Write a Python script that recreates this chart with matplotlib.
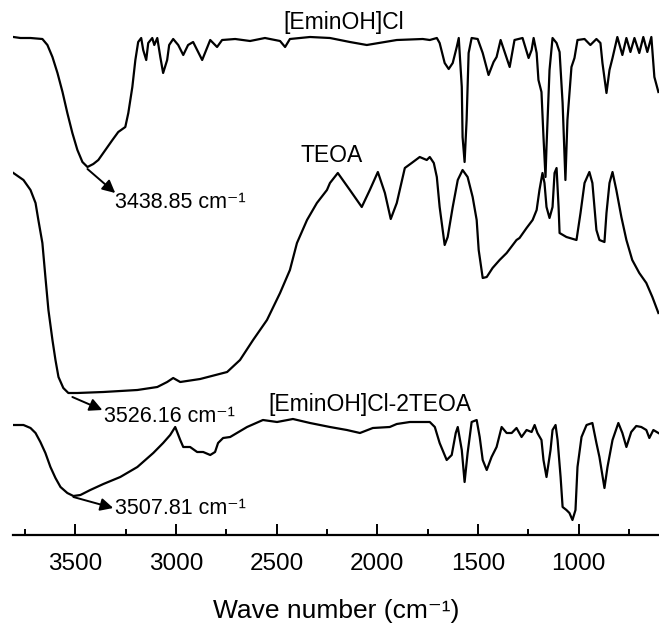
import matplotlib
matplotlib.use("Agg")
import matplotlib.pyplot as plt
from matplotlib.ticker import MultipleLocator

plt.rcParams['font.family'] = ['Liberation Sans', 'DejaVu Sans']

# [EminOH]Cl spectrum (wavenumber, stacked intensity a.u.)
wn_emin = [3808, 3773, 3723, 3664, 3639, 3614, 3589, 3564, 3540, 3515, 3490, 3465,
           3440, 3411, 3386, 3351, 3316, 3287, 3252, 3237, 3217, 3202, 3188, 3173,
           3163, 3148, 3138, 3118, 3108, 3093, 3078, 3064, 3044, 3034, 3014, 2989,
           2964, 2940, 2915, 2870, 2830, 2796, 2771, 2706, 2632, 2558, 2483, 2458,
           2434, 2334, 2235, 2136, 2052, 1903, 1774, 1739, 1704, 1690, 1665, 1645,
           1625, 1605, 1595, 1580, 1576, 1566, 1556, 1546, 1531, 1501, 1476, 1447,
           1422, 1407, 1387, 1367, 1342, 1318, 1278, 1248, 1233, 1223, 1208, 1199,
           1184, 1174, 1164, 1159, 1144, 1129, 1109, 1094, 1079, 1065, 1055, 1035,
           1020, 1005, 970, 941, 911, 891, 881, 861, 846, 831, 807, 782, 762, 742,
           722, 698, 678, 658, 638, 623, 603]
int_emin = [498, 497, 497, 496, 490, 478, 462, 443, 422, 402, 385, 373,
            368, 371, 375, 385, 395, 403, 408, 422, 448, 475, 493, 497,
            485, 475, 492, 497, 490, 497, 478, 462, 475, 490, 496, 490,
            480, 490, 493, 475, 495, 488, 495, 496, 494, 497, 494, 488,
            496, 498, 497, 493, 490, 495, 496, 495, 497, 492, 472, 466,
            472, 488, 497, 448, 398, 373, 415, 482, 497, 496, 482, 460,
            473, 478, 495, 483, 468, 495, 497, 477, 485, 497, 482, 455,
            443, 398, 358, 388, 465, 497, 492, 483, 432, 355, 415, 468,
            477, 495, 496, 490, 496, 492, 472, 442, 465, 477, 498, 480, 497, 483,
            497, 482, 498, 483, 498, 458, 443]

# TEOA spectrum
wn_teoa = [3808, 3758, 3723, 3698, 3684, 3664, 3649, 3634, 3614, 3599, 3584, 3560,
           3535, 3490, 3361, 3192, 3093, 3044, 3014, 2979, 2880, 2746, 2682, 2617,
           2548, 2483, 2434, 2399, 2349, 2300, 2250, 2235, 2196, 2136, 2077, 2037,
           1997, 1962, 1933, 1903, 1863, 1829, 1789, 1754, 1739, 1719, 1704, 1690,
           1665, 1650, 1625, 1600, 1576, 1551, 1526, 1506, 1496, 1476, 1456, 1427,
           1392, 1357, 1308, 1293, 1258, 1228, 1208, 1194, 1179, 1169, 1159, 1144,
           1129, 1119, 1109, 1099, 1094, 1060, 1010, 990, 970, 946, 931, 911,
           896, 871, 861, 846, 831, 812, 787, 762, 733, 698, 663, 633, 603]
int_teoa = [362, 355, 345, 332, 315, 292, 258, 225, 195, 175, 158, 147,
            142, 142, 143, 145, 148, 153, 157, 153, 156, 163, 175, 195,
            215, 242, 265, 292, 315, 332, 345, 352, 362, 345, 328, 345,
            363, 342, 316, 332, 367, 372, 378, 375, 378, 372, 358, 328,
            290, 298, 328, 355, 365, 358, 338, 315, 285, 257, 258, 267,
            275, 282, 295, 297, 307, 315, 325, 345, 362, 352, 328, 317,
            328, 362, 367, 328, 302, 298, 295, 322, 352, 363, 352, 305,
            295, 293, 322, 352, 363, 345, 318, 295, 275, 262, 252, 238, 222]

# [EminOH]Cl-2TEOA spectrum
wn_mix = [3808, 3758, 3723, 3698, 3674, 3649, 3624, 3599, 3574, 3540, 3510, 3475,
          3426, 3361, 3277, 3192, 3113, 3064, 3029, 3004, 2979, 2964, 2930, 2895,
          2865, 2830, 2806, 2791, 2766, 2731, 2647, 2568, 2498, 2419, 2334, 2235,
          2151, 2086, 2022, 1938, 1903, 1838, 1739, 1714, 1690, 1655, 1630, 1610,
          1600, 1580, 1566, 1551, 1531, 1506, 1491, 1476, 1456, 1432, 1407, 1382,
          1357, 1332, 1308, 1283, 1258, 1233, 1218, 1204, 1184, 1174, 1159, 1139,
          1129, 1114, 1104, 1089, 1079, 1060, 1045, 1030, 1015, 1005, 985, 960,
          931, 911, 896, 871, 856, 831, 802, 782, 762, 738, 713, 688, 663, 648,
          628, 603]
int_mix = [110, 110, 107, 102, 93, 82, 68, 57, 48, 42, 39, 40,
           45, 51, 58, 68, 82, 92, 100, 108, 95, 88, 88, 83,
           83, 80, 83, 92, 97, 98, 108, 115, 113, 116, 112, 108,
           105, 102, 107, 108, 111, 113, 113, 108, 92, 75, 80, 102,
           108, 85, 53, 82, 113, 115, 98, 75, 65, 78, 88, 108,
           102, 102, 107, 98, 105, 103, 110, 102, 95, 75, 58, 85,
           105, 110, 95, 58, 28, 25, 22, 15, 25, 68, 98, 110,
           112, 92, 78, 47, 68, 95, 112, 102, 88, 103, 109, 108, 105, 97,
           105, 102]

x_ticks = [3500, 3000, 2500, 2000, 1500, 1000]

fig = plt.figure(figsize=(6.59, 6.24), dpi=100)
ax = fig.add_axes([13 / 659, 1 - 535 / 624, 646 / 659, 535 / 624])

for wn, val in [(wn_emin, int_emin), (wn_teoa, int_teoa), (wn_mix, int_mix)]:
    ax.plot(wn, val, color='black', lw=1.6, solid_joinstyle='round')

ax.set_xlim(3810, 600)
ax.set_ylim(0, 535)
ax.set_xticks(x_ticks)
ax.xaxis.set_minor_locator(MultipleLocator(250))
ax.set_yticks([])
for s in ['top', 'right', 'left']:
    ax.spines[s].set_visible(False)
ax.spines['bottom'].set_linewidth(1.6)
ax.tick_params(axis='x', which='major', direction='in', length=8, width=1.4,
               labelsize=17.5, pad=13)
ax.tick_params(axis='x', which='minor', direction='in', length=4, width=1.4)
ax.set_xlabel('Wave number (cm⁻¹)', fontsize=19, labelpad=17)

# trace names
ax.text(2468, 513, '[EminOH]Cl', fontsize=16.5, ha='left', va='center')
ax.text(2380, 380, 'TEOA', fontsize=16.5, ha='left', va='center')
ax.text(2543, 130, '[EminOH]Cl-2TEOA', fontsize=16.5, ha='left', va='center')

# peak annotations
arrow = dict(arrowstyle='-|>', color='black', lw=1.4, mutation_scale=19,
             shrinkA=0, shrinkB=0)
peaks = [((3440, 366), (3302, 342), (3305, 332), '3438.85 cm⁻¹'),
         ((3515, 138), (3366, 125), (3360, 118), '3526.16 cm⁻¹'),
         ((3510, 38), (3312, 27), (3305, 26), '3507.81 cm⁻¹')]
for tail, head, txt_pos, txt in peaks:
    ax.annotate('', xy=head, xytext=tail, arrowprops=arrow)
    ax.text(txt_pos[0], txt_pos[1], txt, fontsize=15.5, ha='left', va='center')

fig.savefig('out.png', dpi=100)
